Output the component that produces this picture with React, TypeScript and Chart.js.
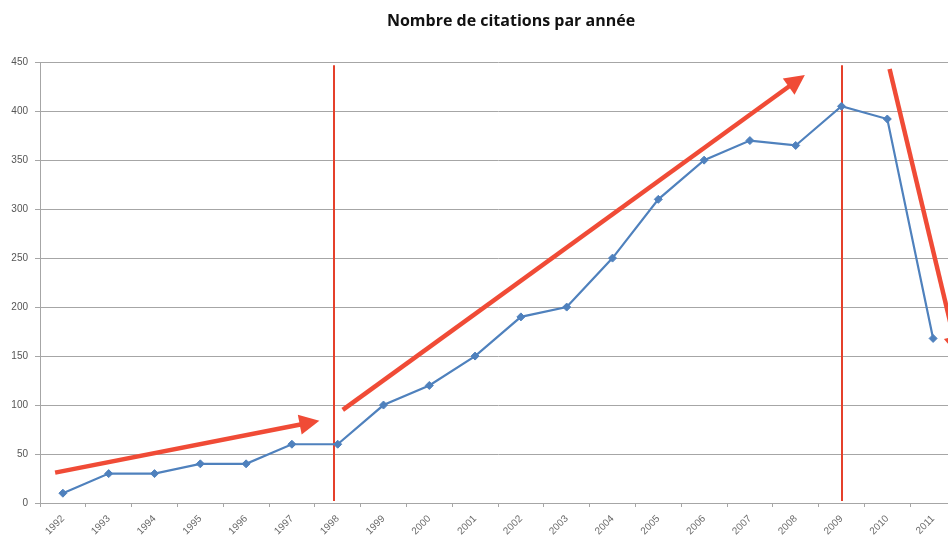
import React, { useEffect, useRef } from "react";
import { Chart, registerables } from "chart.js";
Chart.register(...registerables);

const years = ["1992","1993","1994","1995","1996","1997","1998","1999","2000","2001","2002","2003","2004","2005","2006","2007","2008","2009","2010","2011"];
const citations = [10, 30, 30, 40, 40, 60, 60, 100, 120, 150, 190, 200, 250, 310, 350, 370, 365, 405, 392, 168];
const yMin = 0;
const yMax = 450;
const yStep = 50;
const titleText = "Nombre de citations par année";

// phase separators (category-index positions)
const phaseLines = [5.93, 17.02];
// trend arrows, in data coordinates (x = category index, y = value)
const arrowStartX = [-0.17, 6.11, 18.05];
const arrowStartY = [31, 95, 443];
const arrowEndX = [5.6, 16.2, 19.55];
const arrowEndY = [84, 437, 150];

const RED_LINE = "#e5402b";
const RED_ARROW = "#f04b36";
const BLUE = "#4f81bd";
const GRID = "#a6a6a6";
const RIGHT_PAD = 66;

const annotationPlugin = {
  id: "trendAnnotations",
  afterLayout(chart: any) {
    // center the title over the full canvas (including cropped part)
    if (chart.titleBlock) chart.titleBlock.right += RIGHT_PAD;
  },
  beforeDatasetsDraw(chart: any) {
    const { ctx, scales, chartArea } = chart;
    const xs = scales.x;
    ctx.save();
    ctx.strokeStyle = RED_LINE;
    ctx.lineWidth = 2;
    phaseLines.forEach((v) => {
      const px = Math.round(xs.getPixelForValue(v));
      ctx.beginPath();
      ctx.moveTo(px, chartArea.top + 3);
      ctx.lineTo(px, chartArea.bottom - 2);
      ctx.stroke();
    });
    ctx.restore();
  },
  afterDatasetsDraw(chart: any) {
    const { ctx, scales } = chart;
    const xs = scales.x;
    const ys = scales.y;
    ctx.save();
    for (let i = 0; i < arrowStartX.length; i++) {
      const x0 = xs.getPixelForValue(arrowStartX[i]);
      const y0 = ys.getPixelForValue(arrowStartY[i]);
      const x1 = xs.getPixelForValue(arrowEndX[i]);
      const y1 = ys.getPixelForValue(arrowEndY[i]);
      const ang = Math.atan2(y1 - y0, x1 - x0);
      const headLen = 20;
      const headW = 10;
      const bx = x1 - headLen * Math.cos(ang);
      const by = y1 - headLen * Math.sin(ang);
      ctx.strokeStyle = RED_ARROW;
      ctx.fillStyle = RED_ARROW;
      ctx.lineWidth = 4.5;
      ctx.lineCap = "butt";
      ctx.beginPath();
      ctx.moveTo(x0, y0);
      ctx.lineTo(bx + 2 * Math.cos(ang), by + 2 * Math.sin(ang));
      ctx.stroke();
      ctx.beginPath();
      ctx.moveTo(x1, y1);
      ctx.lineTo(bx + headW * Math.sin(ang), by - headW * Math.cos(ang));
      ctx.lineTo(bx - headW * Math.sin(ang), by + headW * Math.cos(ang));
      ctx.closePath();
      ctx.fill();
    }
    ctx.restore();
  },
};

export default function App() {
  const ref = useRef<HTMLCanvasElement>(null);
  useEffect(() => {
    if (!ref.current) return;
    const chart = new Chart(ref.current, {
      type: "line",
      data: {
        labels: years,
        datasets: [
          {
            label: "Citations",
            data: citations,
            borderColor: BLUE,
            backgroundColor: BLUE,
            borderWidth: 2.2,
            pointStyle: "rectRot",
            pointRadius: 4,
            pointBorderWidth: 1,
            tension: 0,
          },
        ],
      },
      options: {
        animation: false,
        responsive: false,
        devicePixelRatio: 1,
        layout: { padding: { left: 0, right: RIGHT_PAD, top: 0, bottom: 0 } },
        plugins: {
          legend: { display: false },
          tooltip: { enabled: false },
          title: {
            display: true,
            text: titleText,
            color: "#111",
            font: { family: "Open Sans", size: 16, weight: "bold", lineHeight: 1.2 },
            padding: { top: 12, bottom: 31 },
          },
        },
        scales: {
          x: {
            type: "category",
            offset: true,
            grid: {
              display: true,
              drawOnChartArea: false,
              drawTicks: true,
              offset: true,
              tickLength: 4,
              color: GRID,
            },
            border: { display: true, color: GRID, width: 1 },
            ticks: {
              minRotation: 45,
              maxRotation: 45,
              autoSkip: false,
              padding: 6,
              color: "#6b6b6b",
              font: { family: "Liberation Sans", size: 10 },
            },
            afterFit: (s: any) => {
              s.height = 46;
            },
          },
          y: {
            min: yMin,
            max: yMax,
            grid: { color: GRID, lineWidth: 1, tickLength: 5 },
            border: { display: true, color: GRID, width: 1 },
            ticks: {
              stepSize: yStep,
              padding: 7,
              color: "#555",
              font: { family: "Liberation Sans", size: 10 },
            },
            afterFit: (s: any) => {
              s.width = 40;
            },
          },
        },
      },
      plugins: [annotationPlugin],
    });
    return () => chart.destroy();
  }, []);
  return (
    <div
      style={{
        position: "fixed",
        left: 0,
        top: 0,
        width: 948,
        height: 549,
        overflow: "hidden",
        background: "#fff",
      }}
    >
      <canvas ref={ref} width={1022} height={549} style={{ display: "block" }} />
    </div>
  );
}
